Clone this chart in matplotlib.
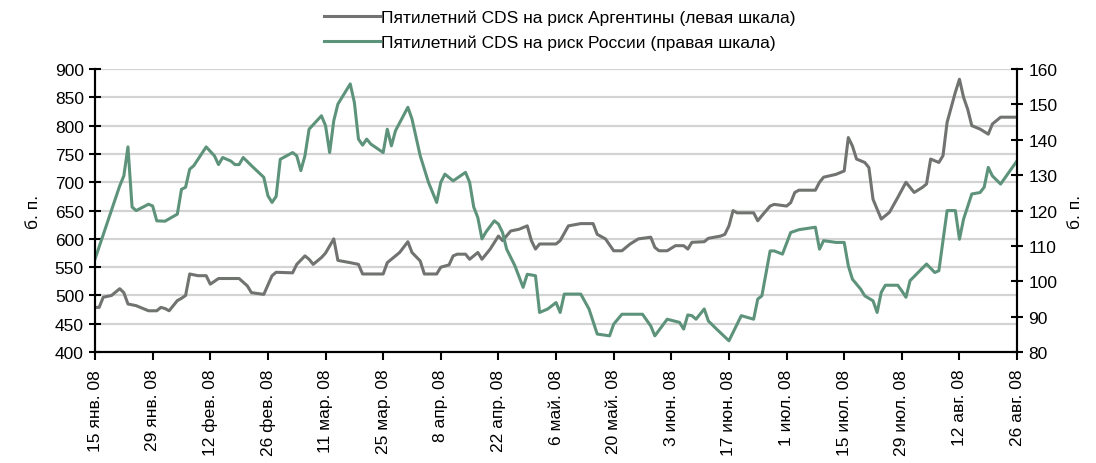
import numpy as np
import matplotlib.pyplot as plt

plt.rcParams['font.family'] = ['Liberation Sans', 'DejaVu Sans']

# days since 15 Jan 2008
arg_days = [0, 1, 2, 4, 6, 7, 8, 10, 11, 13, 15, 16, 17, 18, 20, 21, 22, 23, 25, 27,
            28, 30, 35, 37, 38, 41, 43, 44, 48, 49, 51, 52, 53, 54, 55, 56, 58, 59, 62, 64,
            65, 70, 71, 72, 74, 76, 77, 79, 80, 83, 84, 86, 87, 88, 90, 91, 93, 94, 96, 98,
            99, 101, 103, 105, 106, 107, 108, 112, 113, 115, 118, 121, 122, 124, 126, 128, 130, 132, 135, 136,
            137, 139, 141, 143, 144, 145, 148, 149, 152, 153, 154, 155, 156, 160, 161, 162, 164, 165, 168, 169,
            170, 171, 175, 176, 177, 180, 181, 182, 183, 184, 185, 187, 188, 189, 191, 193, 195, 197, 199, 201,
            202, 203, 205, 206, 207, 209, 210, 211, 212, 213, 215, 217, 218, 220, 224]
arg_cds = [479, 479, 497, 500, 512, 505, 485, 482, 479, 473, 473, 479, 477, 473, 491, 495, 500, 538, 535, 535,
           520, 530, 530, 517, 505, 502, 535, 541, 540, 555, 570, 564, 555, 561, 567, 575, 600, 562, 558, 555,
           538, 538, 558, 564, 576, 595, 576, 561, 538, 538, 550, 554, 570, 573, 573, 564, 576, 564, 582, 605,
           597, 614, 617, 623, 597, 582, 591, 591, 597, 623, 627, 627, 608, 600, 579, 579, 591, 600, 603, 585,
           579, 579, 588, 588, 582, 594, 595, 601, 605, 608, 623, 650, 646, 646, 632, 641, 658, 661, 658, 664,
           682, 686, 686, 700, 709, 714, 717, 720, 779, 764, 741, 735, 726, 670, 635, 647, 673, 700, 682, 691,
           697, 741, 735, 747, 806, 859, 882, 850, 829, 800, 794, 785, 803, 815, 815]

rus_days = [0, 6, 7, 8, 9, 10, 13, 14, 15, 17, 20, 21, 22, 23, 24, 27, 29, 30, 31, 33,
            34, 35, 36, 38, 41, 42, 43, 44, 45, 48, 49, 50, 51, 52, 55, 56, 57, 58, 59, 62,
            63, 64, 65, 66, 67, 70, 71, 72, 73, 76, 77, 79, 81, 83, 84, 85, 87, 90, 91, 92,
            93, 94, 95, 97, 98, 99, 100, 102, 104, 105, 107, 108, 110, 112, 113, 114, 118, 120, 122, 125,
            126, 128, 133, 135, 136, 139, 142, 143, 144, 145, 146, 148, 149, 151, 154, 157, 160, 161, 162, 164,
            165, 167, 169, 171, 175, 176, 177, 180, 182, 183, 184, 186, 187, 189, 190, 191, 192, 195, 196, 197,
            198, 202, 204, 205, 206, 207, 209, 210, 211, 213, 215, 216, 217, 218, 220, 224]
rus_cds = [106.3, 127, 129.8, 138, 121, 120, 121.8, 121.3, 117.1, 117, 119, 126, 126.6, 131.7, 132.7, 138, 135.5, 133, 135, 134,
           133, 133, 135, 132.7, 129.4, 124.2, 122.3, 124, 134.5, 136.4, 135.5, 131.3, 135.5, 143, 146.8, 144, 136.4, 145.4, 150.1, 155.8,
           150.6, 140.2, 138.5, 140.2, 138.8, 136.4, 143, 138.3, 142.6, 149.2, 145.9, 135.5, 128, 122.3, 128, 130.3, 128.4, 130.8, 128, 121,
           118, 112, 114, 117.1, 116.2, 113.8, 109.1, 104.4, 98.3, 102, 101.6, 91.2, 92.2, 94, 91.2, 96.4, 96.4, 92.2, 85.1, 84.6,
           87.9, 90.7, 90.7, 87.4, 84.6, 89.3, 88.4, 86.5, 90.5, 90.3, 89.3, 92.2, 88.8, 86.5, 83.2, 90.3, 89.3, 95, 95.9, 108.6,
           108.6, 107.7, 113.8, 114.6, 115.3, 109.1, 111.5, 111, 111, 104.4, 100.6, 97.8, 95.9, 94.5, 91.2, 96.9, 98.9, 98.9, 97.3, 95.5,
           100.2, 104.9, 102.5, 103, 111.5, 120, 120, 111.9, 117.6, 124.7, 125.1, 126.6, 132.2, 129.8, 127.5, 134.1]

tick_labels = ['15 янв. 08', '29 янв. 08', '12 фев. 08', '26 фев. 08', '11 мар. 08', '25 мар. 08',
               '8 апр. 08', '22 апр. 08', '6 май. 08', '20 май. 08', '3 июн. 08', '17 июн. 08',
               '1 июл. 08', '15 июл. 08', '29 июл. 08', '12 авг. 08', '26 авг. 08']

start = np.datetime64('2008-01-15')
arg_dates = start + np.array(arg_days)
rus_dates = start + np.array(rus_days)
tick_dates = start + 14 * np.arange(len(tick_labels))

grey = '#707370'
green = '#5e937b'

fig = plt.figure(figsize=(10.96, 4.64), dpi=100)
ax = fig.add_axes([0.0867, 0.239, 0.8413, 0.61])
ax2 = ax.twinx()

l1, = ax.plot(arg_dates, arg_cds, color=grey, lw=2.2, label='Пятилетний CDS на риск Аргентины (левая шкала)')
l2, = ax2.plot(rus_dates, rus_cds, color=green, lw=2.2, label='Пятилетний CDS на риск России (правая шкала)')

ax.set_ylim(400, 900)
ax.set_yticks(np.arange(400, 901, 50))
ax2.set_ylim(80, 160)
ax2.set_yticks(np.arange(80, 161, 10))
ax.set_xlim(tick_dates[0], tick_dates[-1])
ax.set_xticks(tick_dates)
ax.set_xticklabels(tick_labels, rotation=90, fontsize=12.5)
ax.grid(axis='y', color='#d3d3d3', lw=1.6)
ax.set_axisbelow(True)

for a in (ax, ax2):
    a.spines['top'].set_visible(False)
    for s in ('left', 'right', 'bottom'):
        a.spines[s].set_linewidth(1.5)
    a.tick_params(axis='y', direction='inout', length=9, width=1.5, labelsize=12.5)
ax.tick_params(axis='x', direction='out', length=6, width=1.5, pad=6)

ax.set_ylabel('б. п.', fontsize=12.5, labelpad=10)
ax2.set_ylabel('б. п.', fontsize=12.5, labelpad=8)

fig.legend(handles=[l1, l2], loc='upper center', bbox_to_anchor=(0.511, 1.01), frameon=False,
           fontsize=12.5, handlelength=3.2, handletextpad=0.1, labelspacing=0.5)

fig.savefig('out.png', dpi=100)
